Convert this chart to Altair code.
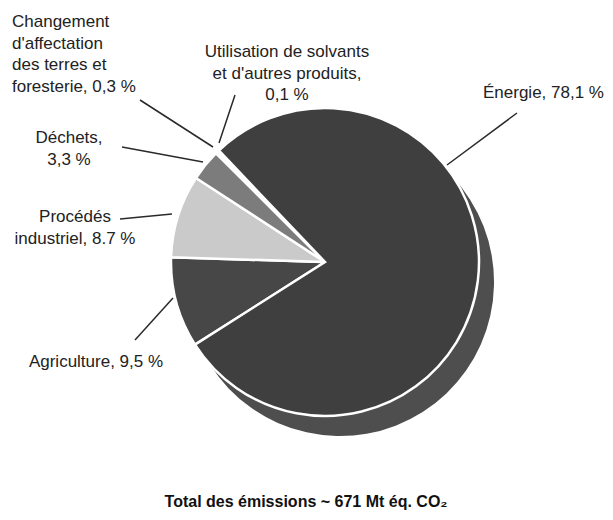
import math
import altair as alt
import pandas as pd

# ---- data ----
categories = ["Agriculture", "Procédés industriels", "Déchets",
              "Changement d'affectation des terres et foresterie",
              "Utilisation de solvants et d'autres produits", "Énergie"]
shares = [9.5, 8.7, 3.3, 0.3, 0.1, 78.1]
fills = ["#474747", "#cacaca", "#7c7c7c", "#e4e4e4", "#eeeeee", "#3f3f3f"]

label_texts = [
    ["Changement", "d'affectation", "des terres et", "foresterie, 0,3 %"],
    ["Utilisation de solvants", "et d'autres produits,", "0,1 %"],
    ["Énergie, 78,1 %"],
    ["Déchets,", "3,3 %"],
    ["Procédés", "industriel, 8.7 %"],
    ["Agriculture, 9,5 %"],
]
title_text = "Total des émissions ~ 671 Mt éq. CO₂"

# ---- layout (page pixel positions) ----
W, H = 597, 504
cx, cy, R = 325, 262, 154
shadow_dx, shadow_dy = 15, 20
label_anchor = [(12, 22, "left"), (287, 52, "center"), (483, 93, "left"),
                (69, 138, "center"), (75, 217, "center"), (96, 362, "center")]
line_gap = 21.5
leaders = [((140, 100), (213, 147)), ((235, 95), (219, 143)),
           ((517, 113), (447, 165)), ((122, 147), (203, 162)),
           ((120, 219), (172, 214)), ((135, 340), (173, 298))]

pie_df = pd.DataFrame({"cat": categories, "share": shares,
                       "idx": list(range(len(categories)))})

rows = []
for lines, (lx, ly, al) in zip(label_texts, label_anchor):
    for i, t in enumerate(lines):
        rows.append({"t": t, "x": lx, "y": ly + i * line_gap, "al": al})
lab_df = pd.DataFrame(rows)
lead_df = pd.DataFrame([{"x": a[0], "y": a[1], "x2": b[0], "y2": b[1]} for a, b in leaders])

xs = alt.Scale(domain=[8, 8 + W], nice=False, zero=False)
ys = alt.Scale(domain=[8, 8 + H], nice=False, zero=False, reverse=True)

# start angle so that the cumulative share before Énergie ends at ~316°
start = math.radians(316.4 - sum(shares[:-1]) * 3.6)
th_scale = alt.Scale(range=[start, start + 2 * math.pi])

shadow = alt.Chart(pd.DataFrame({"share": [sum(shares)]})).mark_arc(
    outerRadius=R, color="#4e4e4e"
).encode(
    theta=alt.Theta("share:Q", scale=th_scale),
    x=alt.value(cx - 8 + shadow_dx), y=alt.value(cy - 8 + shadow_dy),
)

pie = alt.Chart(pie_df).mark_arc(outerRadius=R, stroke="white", strokeWidth=2.5).encode(
    theta=alt.Theta("share:Q", stack=True, scale=th_scale),
    color=alt.Color("cat:N", scale=alt.Scale(domain=categories, range=fills), legend=None),
    order=alt.Order("idx:Q"),
    x=alt.value(cx - 8), y=alt.value(cy - 8),
)

font = "Liberation Sans"
txt_left = alt.Chart(lab_df[lab_df.al == "left"]).mark_text(
    align="left", baseline="middle", font=font, fontSize=17, color="#222222"
).encode(x=alt.X("x:Q", scale=xs, axis=None), y=alt.Y("y:Q", scale=ys, axis=None), text="t:N")

txt_center = alt.Chart(lab_df[lab_df.al == "center"]).mark_text(
    align="center", baseline="middle", font=font, fontSize=17, color="#222222"
).encode(x=alt.X("x:Q", scale=xs, axis=None), y=alt.Y("y:Q", scale=ys, axis=None), text="t:N")

rules = alt.Chart(lead_df).mark_rule(color="#2a2a2a", strokeWidth=1.5).encode(
    x=alt.X("x:Q", scale=xs, axis=None), y=alt.Y("y:Q", scale=ys, axis=None),
    x2="x2:Q", y2="y2:Q",
)

title = alt.Chart(pd.DataFrame({"t": [title_text], "x": [306], "y": [507]})).mark_text(
    align="center", baseline="alphabetic", font=font, fontSize=16, fontWeight="bold", color="#111111"
).encode(x=alt.X("x:Q", scale=xs, axis=None), y=alt.Y("y:Q", scale=ys, axis=None), text="t:N")

chart = alt.layer(shadow, pie, rules, txt_left, txt_center, title).properties(
    width=W, height=H, padding=0, autosize=alt.AutoSizeParams(type="none")
).configure_view(stroke=None)

chart.save("out.html", embed_options={"renderer": "svg", "actions": False})
